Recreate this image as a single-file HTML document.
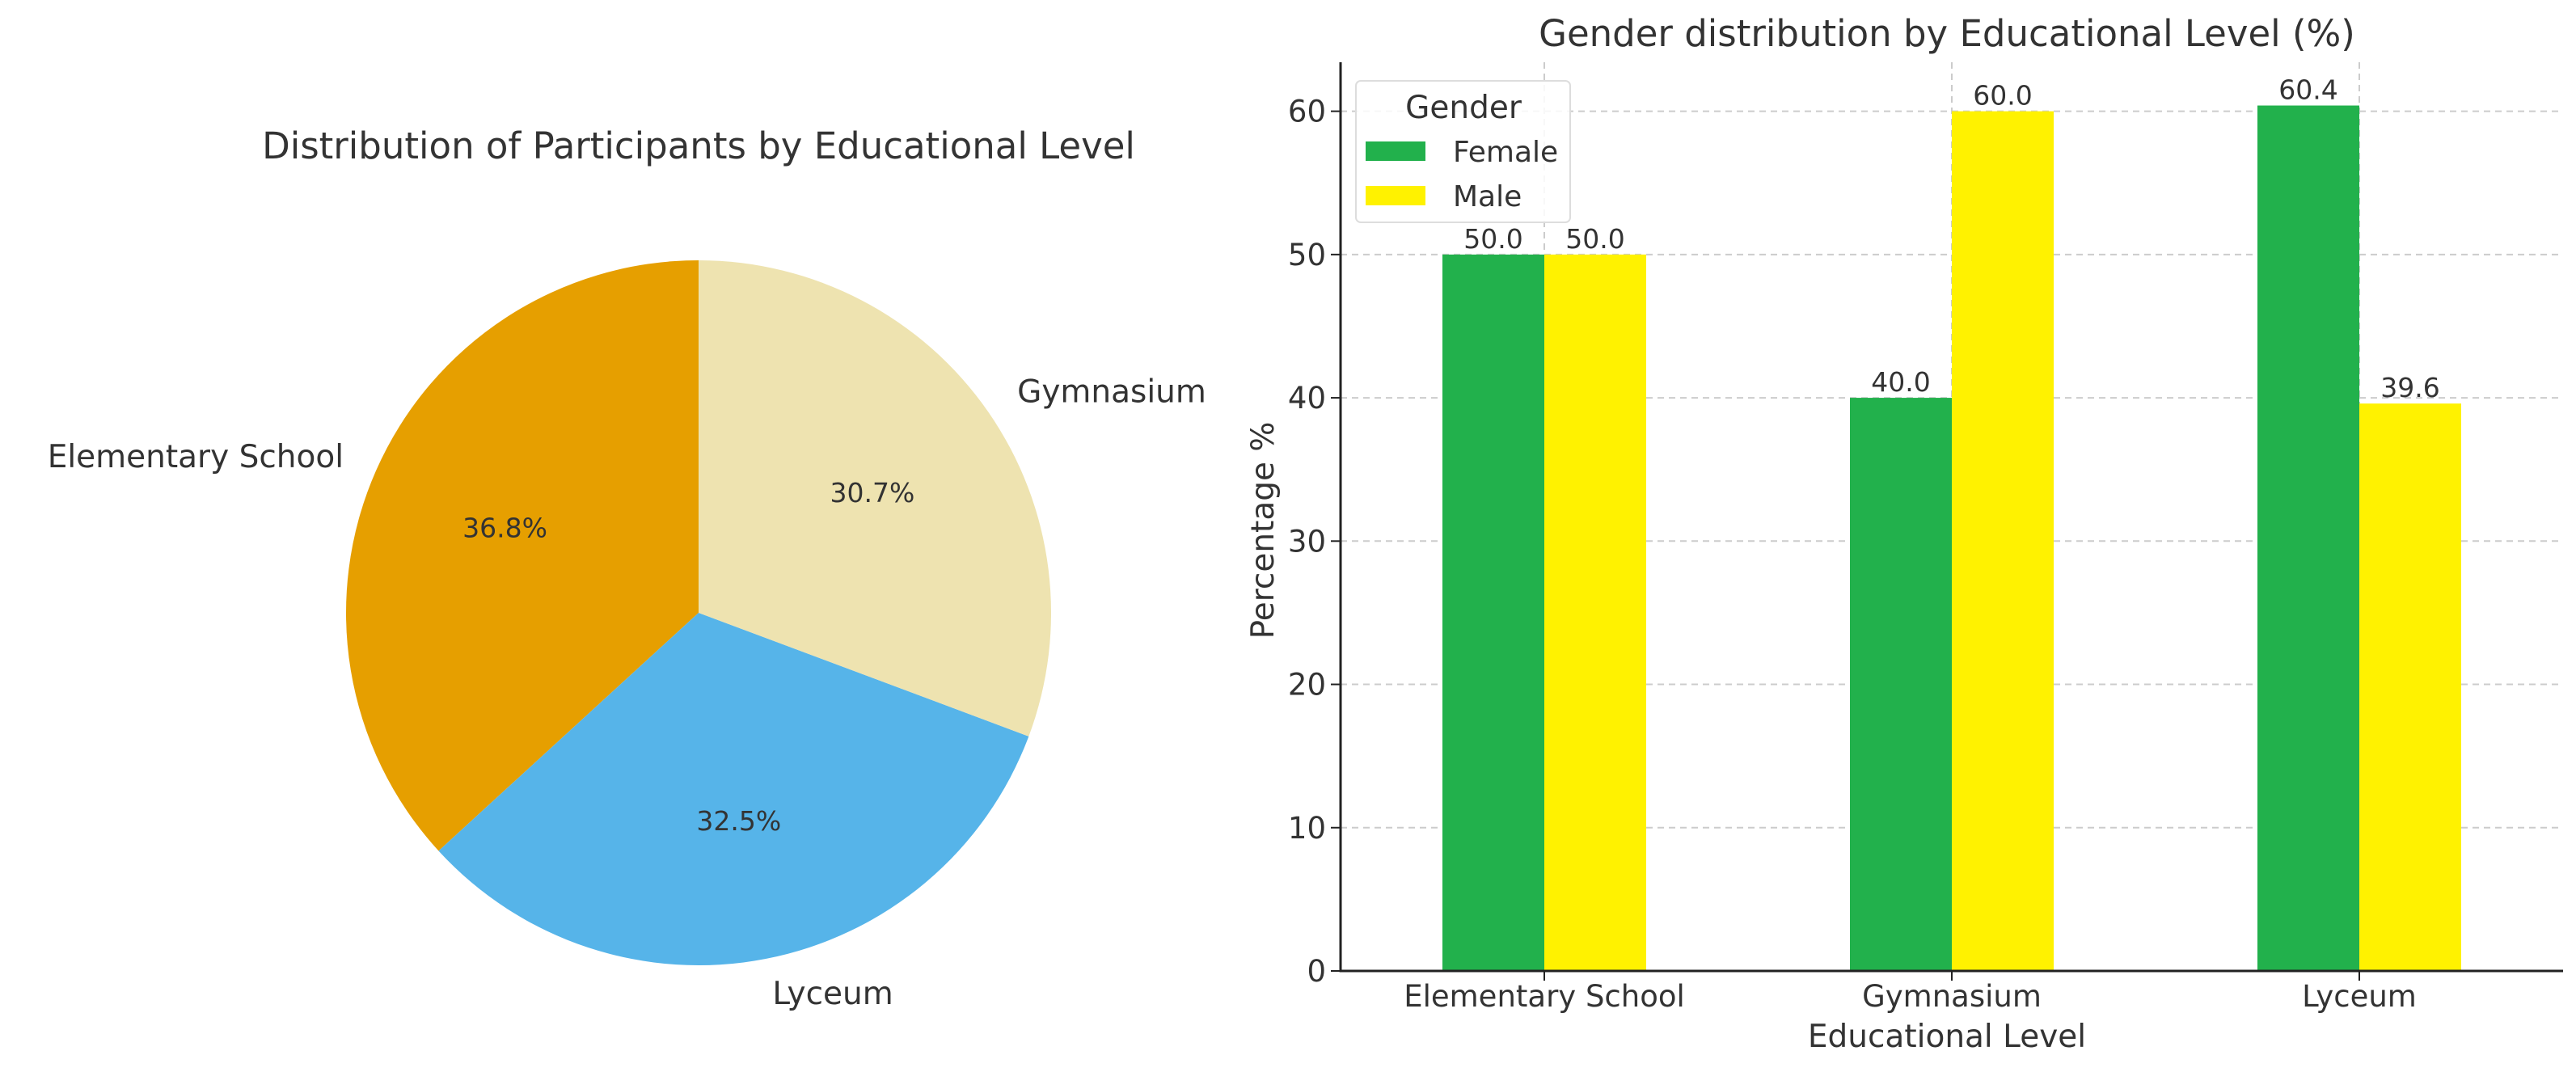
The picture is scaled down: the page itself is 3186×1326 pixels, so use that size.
<!DOCTYPE html>
<html><head><meta charset="utf-8"><style>
html,body{margin:0;padding:0;background:#fff;}
svg{display:block;font-family:"DejaVu Sans","Liberation Sans",sans-serif;}
</style></head><body>
<svg id="root" width="3186" height="1326" viewBox="0 0 3186 1326" xmlns="http://www.w3.org/2000/svg">
<g id="pie">
<text x="864" y="196" font-size="45" fill="#333" text-anchor="middle">Distribution of Participants by Educational Level</text>
</g>
<g id="bar">
<text x="2408" y="57" font-size="45" fill="#333" text-anchor="middle">Gender distribution by Educational Level (%)</text>
<text x="0" y="0" font-size="39" fill="#333" text-anchor="middle" transform="translate(1575,656) rotate(-90)">Percentage %</text>
<text x="2408" y="1295" font-size="39" fill="#333" text-anchor="middle">Educational Level</text>
</g>
</svg>
<script>
const pieLabels = ["Elementary School","Lyceum","Gymnasium"];
const pieValues = [36.8,32.5,30.7];
const pieColors = ["#e69f00","#56b4e9","#eee3b0"];
const categories = ["Elementary School","Gymnasium","Lyceum"];
const femaleValues = [50.0,40.0,60.4];
const maleValues = [50.0,60.0,39.6];
const yTicks = [0,10,20,30,40,50,60];

const NS="http://www.w3.org/2000/svg";
function mk(parent,tag,attrs,text){const e=document.createElementNS(NS,tag);for(const k in attrs)e.setAttribute(k,attrs[k]);if(text!==undefined)e.textContent=text;parent.appendChild(e);return e;}

// Pie
const pie=document.getElementById('pie');
const cx=864,cy=758,r=436;
const total=pieValues.reduce((a,b)=>a+b,0);
let ang=90;
pieValues.forEach((v,i)=>{
  const sweep=v/total*360;
  const a0=ang*Math.PI/180,a1=(ang+sweep)*Math.PI/180;
  const x0=cx+r*Math.cos(a0),y0=cy-r*Math.sin(a0),x1=cx+r*Math.cos(a1),y1=cy-r*Math.sin(a1);
  const large=sweep>180?1:0;
  const p=mk(pie,'path',{d:`M${cx},${cy} L${x0},${y0} A${r},${r} 0 ${large} 0 ${x1},${y1} Z`,fill:pieColors[i]});
  
  
  const mid=(ang+sweep/2)*Math.PI/180;
  const px=cx+0.6*r*Math.cos(mid),py=cy-0.6*r*Math.sin(mid);
  const t=mk(pie,'text',{x:px,y:py+12,'font-size':33,fill:'#333','text-anchor':'middle'},v.toFixed(1)+'%');
  
  
  const lx=cx+1.1*r*Math.cos(mid),ly=cy-1.1*r*Math.sin(mid);
  const anchor=Math.cos(mid)<-0.1?'end':(Math.cos(mid)>0.1?'start':'middle');
  const l=mk(pie,'text',{x:lx,y:ly+13,'font-size':39,fill:'#333','text-anchor':anchor},pieLabels[i]);
  
  
  ang+=sweep;
});

// Bar chart
const bar=document.getElementById('bar');
const L=1658,R=3170,B=1201,T=77;
const ymax=63.42;
const yS=v=>B-(v/ymax)*(B-T);
const unit=(R-L)/3;
const xS=i=>L+unit*(i+0.5);
const bw=unit*0.25;
const grid=mk(bar,'g',{});


yTicks.forEach(t=>{
  if(t>0){const g=mk(grid,'line',{x1:L,x2:R,y1:yS(t),y2:yS(t),stroke:'#ccc','stroke-width':2,'stroke-dasharray':'8,6'});
  }
  const tk=mk(bar,'line',{x1:L-12,x2:L,y1:yS(t),y2:yS(t),stroke:'#222','stroke-width':2});
  
  const lb=mk(bar,'text',{x:L-18,y:yS(t)+13,'font-size':37,fill:'#333','text-anchor':'end'},String(t));
  
});
categories.forEach((c,i)=>{
  const g=mk(grid,'line',{x1:xS(i),x2:xS(i),y1:T,y2:B,stroke:'#ccc','stroke-width':2,'stroke-dasharray':'8,6'});
  
  const f=mk(bar,'rect',{x:xS(i)-bw,y:yS(femaleValues[i]),width:bw,height:B-yS(femaleValues[i]),fill:'#22b14c'});
  
  const m=mk(bar,'rect',{x:xS(i),y:yS(maleValues[i]),width:bw,height:B-yS(maleValues[i]),fill:'#fff200'});
  
  const fl=mk(bar,'text',{x:xS(i)-bw/2,y:yS(femaleValues[i])-8,'font-size':33,fill:'#333','text-anchor':'middle'},femaleValues[i].toFixed(1));
  
  const ml=mk(bar,'text',{x:xS(i)+bw/2,y:yS(maleValues[i])-8,'font-size':33,fill:'#333','text-anchor':'middle'},maleValues[i].toFixed(1));
  
  const tk=mk(bar,'line',{x1:xS(i),x2:xS(i),y1:B,y2:B+12,stroke:'#222','stroke-width':2});
  
  const cl=mk(bar,'text',{x:xS(i),y:B+44,'font-size':37,fill:'#333','text-anchor':'middle'},c);
  
});
const ax=mk(bar,'path',{d:`M${L},${T} L${L},${B} L${R},${B}`,fill:'none',stroke:'#222','stroke-width':3});

// Legend
const lg=mk(bar,'g',{});


mk(lg,'rect',{x:1677,y:100,width:265,height:175,rx:6,fill:'#fff','fill-opacity':0.85,stroke:'#ddd','stroke-width':2});
const lt=mk(lg,'text',{x:1810,y:146,'font-size':39,fill:'#333','text-anchor':'middle'},'Gender');

[['Female','#22b14c',187],['Male','#fff200',242]].forEach(([n,col,y])=>{
  const e=mk(lg,'g',{});
  
  
  mk(e,'rect',{x:1689,y:y-12,width:74,height:24,fill:col});
  mk(e,'text',{x:1797,y:y+13,'font-size':36,fill:'#333'},n);
});
</script>
</body></html>
